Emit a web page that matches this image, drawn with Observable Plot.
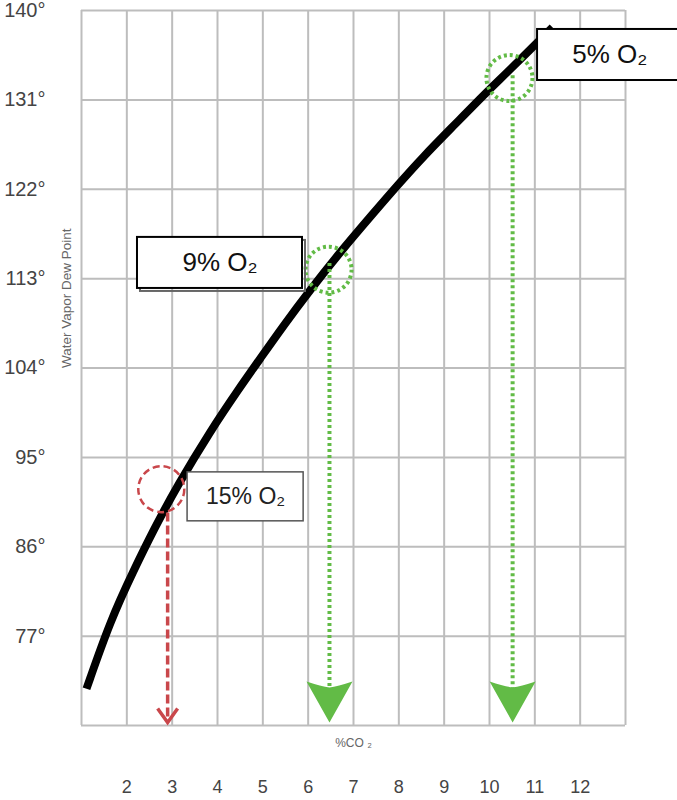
<!DOCTYPE html>
<html>
<head>
<meta charset="utf-8">
<script src="https://cdn.jsdelivr.net/npm/d3@7"></script>
<script src="https://cdn.jsdelivr.net/npm/@observablehq/plot@0.6"></script>
<style>
  html, body { margin: 0; padding: 0; background: #fff; }
  #chart svg { display: block; }
</style>
</head>
<body>
<div id="chart"></div>
<script>
// ---- Data ----
// Dew-point curve: % CO2 vs water vapor dew point (°F)
const co2 = [1.11, 1.64, 2.15, 2.59, 3.12, 3.85, 4.44, 4.95, 5.46, 6.05, 6.71, 7.44, 7.97, 8.54, 9.21, 9.96, 10.40, 11.39];
const dew = [71.7, 78.6, 83.6, 87.7, 92.2, 97.7, 101.7, 105.0, 108.3, 111.9, 115.7, 119.6, 122.4, 125.3, 128.4, 131.9, 133.8, 138.3];

// Axis ticks and grid lines
const xTicks = [2, 3, 4, 5, 6, 7, 8, 9, 10, 11, 12];
const xGrid = [1, 2, 3, 4, 5, 6, 7, 8, 9, 10, 11, 12, 13];
const yTicks = [77, 86, 95, 104, 113, 122, 131, 140];
const yGrid = [68, 77, 86, 95, 104, 113, 122, 131, 140];

// O2 annotations
const o2Labels = ["15% O₂", "9% O₂", "5% O₂"];
const markCO2 = [2.76, 6.45, 10.44];   // circle centre (% CO2)
const markDew = [91.8, 113.9, 133.2];  // circle centre (dew point)
const arrowCO2 = [2.90, 6.47, 10.51];  // drop-line position
const arrowTop = [89.4, 112.0, 130.9]; // drop-line start
const arrowTip = [68.3, 68.3, 68.3];   // arrow tip
const boxX1 = [3.34, 2.235, 11.06];
const boxX2 = [5.90, 5.875, 14.25];
const boxY1 = [88.56, 112.01, 132.95];
const boxY2 = [93.49, 117.15, 138.09];

const yLabel = "Water Vapor Dew Point";
const xLabel = "%CO ₂";

// ---- Styling ----
const gridColor = "#bdbdbd";
const green = "#62bb46";
const red = "#c9474b";

const greenHead = {
  draw(ctx) {
    ctx.moveTo(0, 0);
    ctx.lineTo(-23, -41);
    ctx.quadraticCurveTo(-8, -36, 0, -35);
    ctx.quadraticCurveTo(8, -36, 23, -41);
    ctx.closePath();
  }
};
const redHead = {
  draw(ctx) {
    ctx.moveTo(-10, -14);
    ctx.lineTo(0, 0);
    ctx.lineTo(10, -14);
  }
};

const isRed = (d, i) => i === 0;
const isGreen = (d, i) => i !== 0;
const idx = o2Labels.map((d, i) => i);

const chart = Plot.plot({
  width: 677,
  height: 800,
  marginLeft: 81,
  marginRight: 52,
  marginTop: 10,
  marginBottom: 75,
  style: { fontFamily: "'Liberation Sans', Arial, Helvetica, sans-serif", color: "#444", background: "#fff" },
  x: { domain: [1, 13] },
  y: { domain: [68, 140] },
  marks: [
    Plot.gridX(xGrid, { stroke: gridColor, strokeOpacity: 1, strokeWidth: 2 }),
    Plot.gridY(yGrid, { stroke: gridColor, strokeOpacity: 1, strokeWidth: 2 }),
    Plot.axisX(xTicks, { tickSize: 0, tickPadding: 55, fontSize: 18, label: null }),
    Plot.axisY(yTicks, { tickSize: 0, tickPadding: 36, fontSize: 20, tickFormat: d => d + "°", label: null }),
    Plot.text([yLabel], { text: d => d, frameAnchor: "left", rotate: -90, dx: -15, fontSize: 13.5, fill: "#666" }),
    Plot.text([xLabel], { text: d => d, frameAnchor: "bottom", dy: 21, fontSize: 12, fill: "#666" }),

    // dew point curve
    Plot.line(co2, { x: co2, y: dew, stroke: "black", strokeWidth: 8, curve: "basis", strokeLinecap: "butt" }),

    // drop lines
    Plot.ruleX(idx, { filter: isGreen, x: arrowCO2, y1: arrowTop, y2: arrowTip, stroke: green, strokeWidth: 4, strokeDasharray: "3,3", dy: -25 }),
    Plot.ruleX(idx, { filter: isRed, x: arrowCO2, y1: arrowTop, y2: arrowTip, stroke: red, strokeWidth: 3.5, strokeDasharray: "9,4" }),
    Plot.dot(idx, { filter: isGreen, x: arrowCO2, y: arrowTip, symbol: greenHead, r: 10, fill: green, stroke: "none" }),
    Plot.dot(idx, { filter: isRed, x: arrowCO2, y: arrowTip, symbol: redHead, r: 10, fill: "none", stroke: red, strokeWidth: 3.5 }),

    // circles
    Plot.dot(idx, { filter: isGreen, x: markCO2, y: markDew, r: 23, stroke: green, strokeWidth: 4, strokeDasharray: "3,3", fill: "none" }),
    Plot.dot(idx, { filter: isRed, x: markCO2, y: markDew, r: 23, stroke: red, strokeWidth: 2.5, strokeDasharray: "7,4", fill: "none" }),

    // label boxes
    Plot.rect(idx, { filter: (d, i) => i === 1, x1: boxX1, x2: boxX2, y1: boxY1, y2: boxY2, fill: "none", stroke: "#666", strokeWidth: 2, dx: 3, dy: 3 }),
    Plot.rect(idx, { filter: isGreen, x1: boxX1, x2: boxX2, y1: boxY1, y2: boxY2, fill: "white", stroke: "black", strokeWidth: 2 }),
    Plot.rect(idx, { filter: isRed, x1: boxX1, x2: boxX2, y1: boxY1, y2: boxY2, fill: "white", stroke: "#555", strokeWidth: 1.5 }),
    Plot.text(idx, { filter: isGreen, x: i => (boxX1[i] + boxX2[i]) / 2, y: i => (boxY1[i] + boxY2[i]) / 2, text: i => o2Labels[i], fontSize: 26, fill: "#111" }),
    Plot.text(idx, { filter: isRed, x: i => (boxX1[i] + boxX2[i]) / 2, y: i => (boxY1[i] + boxY2[i]) / 2, text: i => o2Labels[i], fontSize: 23, fill: "#222" })
  ]
});

document.getElementById("chart").appendChild(chart);
</script>
</body>
</html>
